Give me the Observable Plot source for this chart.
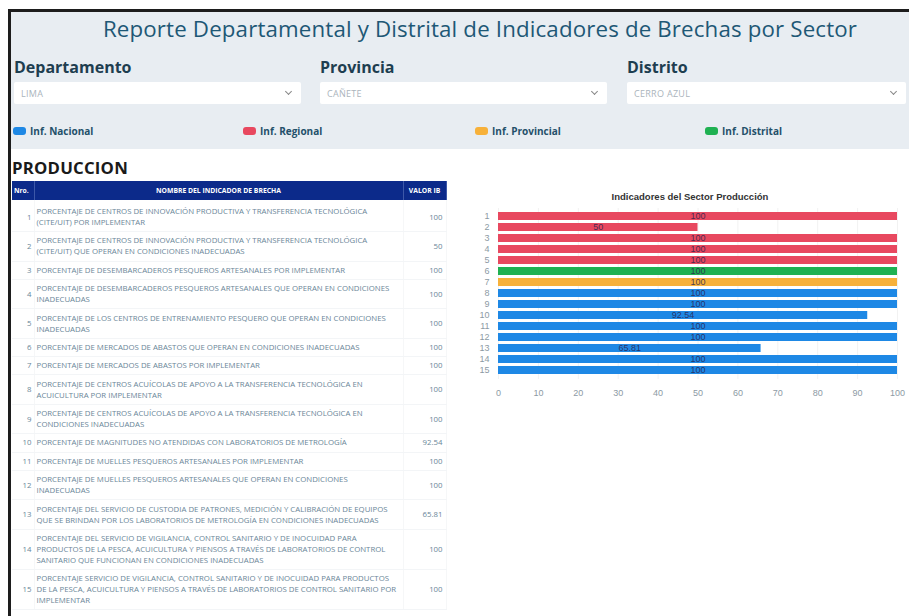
<!DOCTYPE html>
<html>
<head>
<meta charset="utf-8">
<script src="https://cdn.jsdelivr.net/npm/d3@7"></script>
<script src="https://cdn.jsdelivr.net/npm/@observablehq/plot@0.6"></script>
<style>
  html, body { margin:0; padding:0; background:#fff; width:909px; height:616px; overflow:hidden; font-family:"Open Sans", sans-serif; }
  #page { position:absolute; left:8px; top:9px; width:901px; height:607px; border-left:3px solid #1d1d1d; border-top:3px solid #1d1d1d; box-sizing:border-box; }
  #header { position:absolute; left:11px; top:12px; width:898px; height:137px; background:#e8edf2; }
  .abs { position:absolute; }
  #title { left:31px; width:898px; top:13px; text-align:center; font-size:22.3px; color:#1e5876; font-weight:400; letter-spacing:0.15px; }
  .lab { top:56px; font-size:16px; font-weight:700; color:#1e3e50; }
  .sel { top:82px; height:22px; background:#fff; border-radius:2px; }
  .sel span { position:absolute; left:7px; top:5px; font-size:9px; color:#aab4bc; letter-spacing:0.3px; }
  .sel i { position:absolute; right:10px; top:7px; width:4px; height:4px; border-right:1.3px solid #888; border-bottom:1.3px solid #888; transform:rotate(45deg); }
  .leg { top:124px; font-size:10px; font-weight:700; color:#24506a; display:flex; align-items:center; }
  .leg b { display:inline-block; width:13px; height:8px; border-radius:3px; margin-right:4px; }
  #prod { left:12px; top:156px; font-size:16.8px; font-weight:700; color:#1a1a1a; letter-spacing:0.2px; }
  #tbl { position:absolute; left:12px; top:181px; width:434px; border-collapse:collapse; table-layout:fixed; }
  #tbl th { background:#0c2a8a; color:#fff; font-size:6.8px; font-weight:700; height:19px; padding:0 2px; border-right:1px solid #3d58a8; }
  #tbl td { font-size:7.8px; color:#6a8698; line-height:11px; padding:3.2px 2px; border-bottom:1px solid #f3f5f7; border-right:1px solid #f6f7f8; vertical-align:middle; white-space:nowrap; }
  #tbl tbody tr:first-child td { padding-top:6px; }
  #tbl td.n { text-align:right; padding-right:2px; }
  #tbl td.v { text-align:right; padding-right:3px; }
  #ctitle { left:460px; width:460px; top:191px; text-align:center; font-size:9.5px; font-weight:700; color:#333; font-family:"Liberation Sans", Arial, sans-serif; }
  #chart { position:absolute; left:460px; top:204px; }
</style>
</head>
<body>
<div id="page"></div>
<div id="header"></div>
<div id="title" class="abs">Reporte Departamental y Distrital de Indicadores de Brechas por Sector</div>
<div class="abs lab" style="left:14px">Departamento</div>
<div class="abs lab" style="left:320px">Provincia</div>
<div class="abs lab" style="left:627px">Distrito</div>
<div class="abs sel" style="left:14px;width:287px"><span>LIMA</span><i></i></div>
<div class="abs sel" style="left:320px;width:287px"><span>CAÑETE</span><i></i></div>
<div class="abs sel" style="left:627px;width:279px"><span>CERRO AZUL</span><i></i></div>
<div id="legend"></div>
<div id="prod" class="abs">PRODUCCION</div>
<table id="tbl">
  <colgroup><col style="width:22px"><col style="width:369px"><col style="width:43px"></colgroup>
  <thead><tr><th style="text-align:left">Nro.</th><th>NOMBRE DEL INDICADOR DE BRECHA</th><th>VALOR IB</th></tr></thead>
  <tbody id="tbody"></tbody>
</table>
<div id="ctitle" class="abs">Indicadores del Sector Producción</div>
<div id="chart"></div>
<script>
// ---- data ----
const indicadores = ["1","2","3","4","5","6","7","8","9","10","11","12","13","14","15"];
const valores = [100, 50, 100, 100, 100, 100, 100, 100, 100, 92.54, 100, 100, 65.81, 100, 100];
const niveles = ["Regional","Regional","Regional","Regional","Regional","Distrital","Provincial",
  "Nacional","Nacional","Nacional","Nacional","Nacional","Nacional","Nacional","Nacional"];
const nivelNombres = ["Nacional","Regional","Provincial","Distrital"];
const nivelEtiquetas = ["Inf. Nacional","Inf. Regional","Inf. Provincial","Inf. Distrital"];
const nivelColores = ["#1e88e5","#e8485f","#f7b13a","#1fb152"];
const xTicks = [0,10,20,30,40,50,60,70,80,90,100];
const nombres = [
  "PORCENTAJE DE CENTROS DE INNOVACIÓN PRODUCTIVA Y TRANSFERENCIA TECNOLÓGICA<br>(CITE/UIT) POR IMPLEMENTAR",
  "PORCENTAJE DE CENTROS DE INNOVACIÓN PRODUCTIVA Y TRANSFERENCIA TECNOLÓGICA<br>(CITE/UIT) QUE OPERAN EN CONDICIONES INADECUADAS",
  "PORCENTAJE DE DESEMBARCADEROS PESQUEROS ARTESANALES POR IMPLEMENTAR",
  "PORCENTAJE DE DESEMBARCADEROS PESQUEROS ARTESANALES QUE OPERAN EN CONDICIONES<br>INADECUADAS",
  "PORCENTAJE DE LOS CENTROS DE ENTRENAMIENTO PESQUERO QUE OPERAN EN CONDICIONES<br>INADECUADAS",
  "PORCENTAJE DE MERCADOS DE ABASTOS QUE OPERAN EN CONDICIONES INADECUADAS",
  "PORCENTAJE DE MERCADOS DE ABASTOS POR IMPLEMENTAR",
  "PORCENTAJE DE CENTROS ACUÍCOLAS DE APOYO A LA TRANSFERENCIA TECNOLÓGICA EN<br>ACUICULTURA POR IMPLEMENTAR",
  "PORCENTAJE DE CENTROS ACUÍCOLAS DE APOYO A LA TRANSFERENCIA TECNOLÓGICA EN<br>CONDICIONES INADECUADAS",
  "PORCENTAJE DE MAGNITUDES NO ATENDIDAS CON LABORATORIOS DE METROLOGÍA",
  "PORCENTAJE DE MUELLES PESQUEROS ARTESANALES POR IMPLEMENTAR",
  "PORCENTAJE DE MUELLES PESQUEROS ARTESANALES QUE OPERAN EN CONDICIONES<br>INADECUADAS",
  "PORCENTAJE DEL SERVICIO DE CUSTODIA DE PATRONES, MEDICIÓN Y CALIBRACIÓN DE EQUIPOS<br>QUE SE BRINDAN POR LOS LABORATORIOS DE METROLOGÍA EN CONDICIONES INADECUADAS",
  "PORCENTAJE DEL SERVICIO DE VIGILANCIA, CONTROL SANITARIO Y DE INOCUIDAD PARA<br>PRODUCTOS DE LA PESCA, ACUICULTURA Y PIENSOS A TRAVÉS DE LABORATORIOS DE CONTROL<br>SANITARIO QUE FUNCIONAN EN CONDICIONES INADECUADAS",
  "PORCENTAJE SERVICIO DE VIGILANCIA, CONTROL SANITARIO Y DE INOCUIDAD PARA PRODUCTOS<br>DE LA PESCA, ACUICULTURA Y PIENSOS A TRAVÉS DE LABORATORIOS DE CONTROL SANITARIO POR<br>IMPLEMENTAR"
];

// ---- legend ----
const legPos = [13, 243, 475, 705];
const legend = document.getElementById("legend");
nivelNombres.forEach((n, i) => {
  const d = document.createElement("div");
  d.className = "abs leg";
  d.style.left = legPos[i] + "px";
  d.innerHTML = `<b style="background:${nivelColores[i]}"></b>${nivelEtiquetas[i]}`;
  legend.appendChild(d);
});

// ---- table ----
const tbody = document.getElementById("tbody");
indicadores.forEach((n, i) => {
  const tr = document.createElement("tr");
  tr.innerHTML = `<td class="n">${n}</td><td>${nombres[i]}</td><td class="v">${valores[i]}</td>`;
  tbody.appendChild(tr);
});

// ---- chart ----
const data = indicadores.map((n, i) => ({n, v: valores[i], nivel: niveles[i]}));
const chart = Plot.plot({
  width: 449,
  height: 202,
  marginTop: 4,
  marginBottom: 27,
  marginLeft: 38,
  marginRight: 12,
  style: {fontFamily: "'Liberation Sans', Arial, sans-serif", fontSize: "9px", color: "#8c9aa4", background: "transparent"},
  x: {domain: [0, 100], ticks: xTicks, label: null, tickSize: 0, tickPadding: 10},
  y: {domain: indicadores, label: null, padding: 0.25, tickSize: 0, tickPadding: 9},
  color: {domain: nivelNombres, range: nivelColores},
  marks: [
    Plot.gridX(xTicks, {stroke: "#f2f2f2", strokeOpacity: 1}),
    Plot.barX(data, {x: "v", y: "n", fill: "nivel"}),
    Plot.text(data, {x: d => d.v / 2, y: "n", text: d => String(d.v), fill: "#2a2450", fillOpacity: 0.85, fontSize: 9})
  ]
});
document.getElementById("chart").appendChild(chart);
</script>
</body>
</html>
